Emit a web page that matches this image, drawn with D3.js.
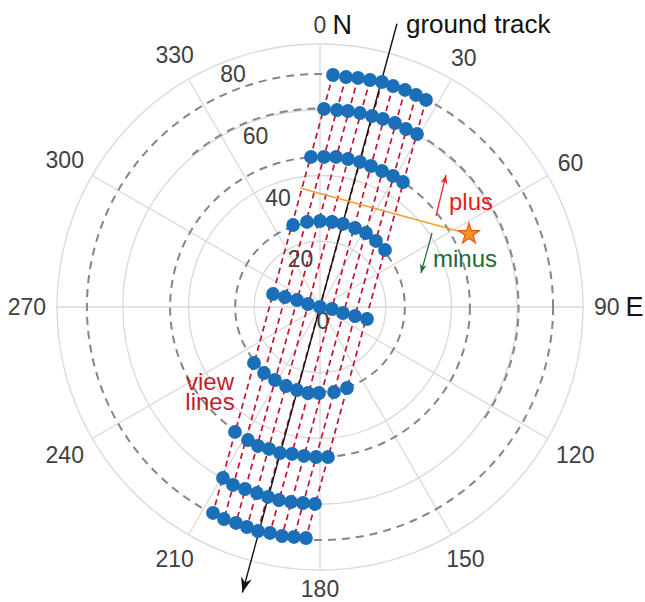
<!DOCTYPE html>
<html><head><meta charset="utf-8">
<script src="https://cdn.jsdelivr.net/npm/d3@7"></script>
<style>
body{margin:0;background:#fff}
svg{display:block}
text{font-family:"Liberation Sans",Arial,Helvetica,sans-serif}
</style>
</head><body>
<svg id="chart" width="645" height="602"></svg>
<script>
// ---------- data ----------
const angleTicks = [0, 30, 60, 90, 120, 150, 180, 210, 240, 270, 300, 330];
const radialTicks = [0, 20, 40, 60, 80];
const dashedRings = [25.8, 45.6, 70.9];
const dashedArcRadius = [60.4];
const dashedArcSpan = [-40, 125];   // azimuth range of the partial ring (deg)
const compassLetters = [{angle: 0, label: "N"}, {angle: 90, label: "E"}];

// Sample points: 9 scan rows x 9 view lines, in (east, north) radial units
const rowEast = [
  [3.95, 7.91, 11.56, 15.21, 18.86, 22.21, 25.86, 29.20, 32.24],
  [1.22, 5.17, 8.52, 12.17, 15.82, 19.16, 22.81, 26.16, 29.51],
  [-2.74, 1.22, 4.87, 8.52, 12.17, 15.51, 18.86, 22.21, 25.25],
  [-8.21, -3.95, 0.00, 3.65, 7.00, 10.65, 13.99, 17.03, 19.77],
  [-14.30, -10.65, -7.00, -3.65, 0.00, 3.65, 7.00, 10.65, 14.30],
  [-20.08, -17.03, -13.69, -10.34, -7.00, -3.65, -0.30, 4.26, 8.21],
  [-25.86, -21.90, -18.86, -15.51, -12.17, -8.52, -4.87, -1.22, 2.43],
  [-29.51, -26.46, -22.81, -19.16, -15.82, -12.47, -8.82, -5.17, -1.52],
  [-32.55, -29.20, -25.55, -22.21, -18.86, -15.21, -11.56, -7.91, -4.26]
];
const rowNorth = [
  [70.57, 69.96, 69.66, 69.05, 68.44, 67.22, 66.01, 64.49, 62.97],
  [60.23, 59.92, 59.62, 59.01, 58.10, 57.19, 55.97, 54.14, 52.62],
  [45.63, 45.63, 45.63, 45.02, 44.11, 42.89, 41.37, 39.85, 38.02],
  [24.94, 25.86, 26.16, 25.86, 25.25, 24.03, 22.51, 20.08, 17.34],
  [3.95, 3.04, 2.13, 0.91, 0.00, -0.61, -1.83, -2.74, -3.65],
  [-17.03, -20.08, -22.21, -24.03, -25.25, -26.16, -26.16, -25.86, -24.64],
  [-38.02, -40.46, -42.28, -43.19, -44.41, -44.71, -45.32, -45.63, -45.63],
  [-52.01, -54.14, -55.36, -56.58, -57.79, -58.71, -59.32, -59.62, -59.92],
  [-62.66, -64.49, -65.70, -66.92, -68.14, -68.74, -69.66, -69.96, -70.27]
];

const trackAzimuth = 15.2;          // degrees
const trackRadius = [89.3, 90.0];   // forward end, backward (arrow) end
const orangeLineStart = [-6.08, 36.2];
const starPoint = [45.32, 22.21];

// ---------- layout ----------
const svg = d3.select("#chart");
const cx = 320, cy = 307, R = 263;
const rScale = d3.scaleLinear().domain([0, 80]).range([0, R]);
const aScale = d3.scaleLinear().domain([0, 360]).range([0, 2 * Math.PI]);

function polar(azDeg, r) {
  const a = aScale(azDeg), p = rScale(r);
  return [cx + p * Math.sin(a), cy - p * Math.cos(a)];
}
function en(e, n) {
  const r = Math.hypot(e, n);
  const az = Math.atan2(e, n) * 180 / Math.PI;
  return polar(az, r);
}

const g = svg.append("g");

// grid circles
g.selectAll("circle.grid").data(radialTicks.filter(d => d > 0)).join("circle")
  .attr("cx", cx).attr("cy", cy).attr("r", d => rScale(d))
  .attr("fill", "none").attr("stroke", "#d9d9d9").attr("stroke-width", 1.3);

// spokes
g.selectAll("line.spoke").data(angleTicks).join("line")
  .attr("x1", cx).attr("y1", cy)
  .attr("x2", d => polar(d, 80)[0]).attr("y2", d => polar(d, 80)[1])
  .attr("stroke", "#d9d9d9").attr("stroke-width", 1.3);

// dashed rings
g.selectAll("circle.dash").data(dashedRings).join("circle")
  .attr("cx", cx).attr("cy", cy).attr("r", d => rScale(d))
  .attr("fill", "none").attr("stroke", "#858585").attr("stroke-width", 2)
  .attr("stroke-dasharray", "8,6");
dashedArcRadius.forEach(r => {
  const p = d3.path();
  p.arc(cx, cy, rScale(r), aScale(dashedArcSpan[0]) - Math.PI / 2, aScale(dashedArcSpan[1]) - Math.PI / 2);
  g.append("path").attr("d", p.toString()).attr("fill", "none")
    .attr("stroke", "#858585").attr("stroke-width", 2).attr("stroke-dasharray", "8,6");
});

// angle labels
const fs = 23, capH = 0.716 * fs;
angleTicks.forEach(t => {
  const label = String(t);
  const w = label.length * 0.556 * fs, h = capH;
  const a = aScale(t);
  const dx = Math.sin(a), dy = -Math.cos(a);
  const sup = Math.abs(dx) * w / 2 + Math.abs(dy) * h / 2;
  const rr = 274 + sup;
  const x = cx + rr * dx, y = cy + rr * dy;
  g.append("text").attr("x", x).attr("y", y + capH / 2)
    .attr("text-anchor", "middle").attr("font-size", fs).attr("fill", "#404040").text(label);
  const cl = compassLetters.find(c => c.angle === t);
  if (cl) {
    g.append("text").attr("x", x + w / 2 + 6).attr("y", y + capH / 2 + 0.5)
      .attr("font-size", 27).attr("fill", "#111").text(cl.label);
  }
});

// radial labels
radialTicks.forEach(t => {
  const p = polar(340, t);
  g.append("text").attr("x", p[0] + 3).attr("y", p[1] + 14 + capH / 2)
    .attr("text-anchor", "middle").attr("font-size", fs).attr("fill", "#404040").text(t);
});

// view lines (red dashed)
const nCols = rowEast[0].length, nRows = rowEast.length;
for (let j = 0; j < nCols; j++) {
  const a = en(rowEast[0][j], rowNorth[0][j]);
  const b = en(rowEast[nRows - 1][j], rowNorth[nRows - 1][j]);
  g.append("line").attr("x1", a[0]).attr("y1", a[1]).attr("x2", b[0]).attr("y2", b[1])
    .attr("stroke", "#c4122d").attr("stroke-width", 1.7).attr("stroke-dasharray", "6,4");
}

// ground track
function arrowHead(tip, from, len, halfW, color) {
  const ux = tip[0] - from[0], uy = tip[1] - from[1];
  const L = Math.hypot(ux, uy); const vx = ux / L, vy = uy / L;
  const bx = tip[0] - vx * len, by = tip[1] - vy * len;
  const pts = [tip, [bx - vy * halfW, by + vx * halfW], [tip[0] - vx * len * 0.7, tip[1] - vy * len * 0.7], [bx + vy * halfW, by - vx * halfW]];
  g.append("path").attr("d", "M" + pts.map(p => p.join(",")).join("L") + "Z").attr("fill", color).attr("stroke", "none");
}
const tTop = polar(trackAzimuth, trackRadius[0]);
const tBot = polar(trackAzimuth + 180, trackRadius[1]);
g.append("line").attr("x1", tTop[0]).attr("y1", tTop[1]).attr("x2", tBot[0]).attr("y2", tBot[1])
  .attr("stroke", "#111").attr("stroke-width", 1.4);
arrowHead(tBot, tTop, 15, 5.5, "#111");

// orange cut line
const oA = en(orangeLineStart[0], orangeLineStart[1]);
const oB = en(starPoint[0], starPoint[1]);
g.append("line").attr("x1", oA[0]).attr("y1", oA[1]).attr("x2", oB[0]).attr("y2", oB[1])
  .attr("stroke", "#f5a030").attr("stroke-width", 1.7);

// dots
const pts = [];
rowEast.forEach((row, i) => row.forEach((e, j) => pts.push(en(e, rowNorth[i][j]))));
g.selectAll("circle.dot").data(pts).join("circle")
  .attr("cx", d => d[0]).attr("cy", d => d[1]).attr("r", 6.9)
  .attr("fill", "#1a6fb8");

// star
g.append("path").attr("d", d3.symbol(d3.symbolStar, 135)())
  .attr("transform", `translate(${oB[0]},${oB[1]})`)
  .attr("fill", "#f7921e").attr("stroke", "#e8551c").attr("stroke-width", 1.2);

// plus / minus arrows
const plusFrom = [436, 216], plusTo = [446, 175];
g.append("line").attr("x1", plusFrom[0]).attr("y1", plusFrom[1]).attr("x2", plusTo[0]).attr("y2", plusTo[1])
  .attr("stroke", "#f01c24").attr("stroke-width", 1.2);
arrowHead(plusTo, plusFrom, 9, 3.5, "#f01c24");
const minusFrom = [432, 233], minusTo = [421, 273];
g.append("line").attr("x1", minusFrom[0]).attr("y1", minusFrom[1]).attr("x2", minusTo[0]).attr("y2", minusTo[1])
  .attr("stroke", "#1d6b34").attr("stroke-width", 1.2);
arrowHead(minusTo, minusFrom, 9, 3.5, "#1d6b34");

g.append("text").attr("x", 449).attr("y", 210).attr("font-size", 24).attr("fill", "#ec1c24").text("plus");
g.append("text").attr("x", 433).attr("y", 267).attr("font-size", 24).attr("fill", "#1d6b34").text("minus");

// view lines label
const vl = g.append("text").attr("font-size", 24).attr("fill", "#be1e2d").attr("text-anchor", "middle");
vl.append("tspan").attr("x", 210).attr("y", 390).text("view");
vl.append("tspan").attr("x", 210).attr("y", 410).text("lines");

// ground track label
g.append("text").attr("x", 406).attr("y", 33).attr("font-size", 26).attr("fill", "#111").text("ground track");
</script>
</body></html>
